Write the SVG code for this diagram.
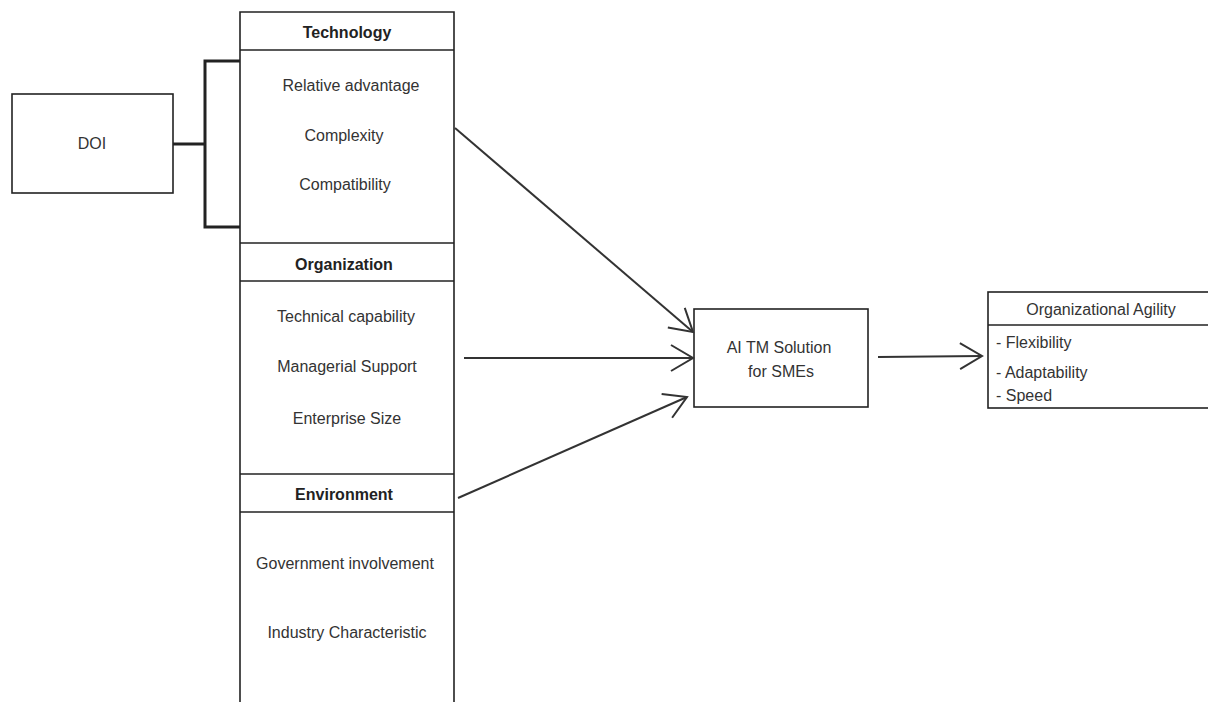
<svg xmlns="http://www.w3.org/2000/svg" width="1208" height="702" viewBox="0 0 1208 702">
<style>
.box{fill:#fff;stroke:#222;stroke-width:1.6}
.ln{fill:none;stroke:#222;stroke-width:1.6}
.t{font-family:"Liberation Sans",Arial,sans-serif;font-size:16px;fill:#333;text-anchor:middle}
.h{font-weight:bold;fill:#222}
.l{text-anchor:start}
.conn{fill:none;stroke:#333;stroke-width:2}
.br{fill:none;stroke:#222;stroke-width:3}
</style>
<defs>
<marker id="ah" markerUnits="userSpaceOnUse" markerWidth="26" markerHeight="30" refX="23" refY="14" orient="auto" viewBox="0 0 26 30">
<path d="M1,1 L23,14 L1,27" fill="none" stroke="#333" stroke-width="2"/>
</marker>
</defs>
<rect width="1208" height="702" fill="#fff"/>
<g id="doi">
<rect class="box" x="12" y="94" width="161" height="99"/>
<text class="t" x="92" y="149">DOI</text>
</g>
<g id="tech">
<path class="ln" d="M240,704 L240,12 L454,12 L454,704"/>
<line class="ln" x1="240" y1="50" x2="454" y2="50"/>
<text class="t h" x="347" y="38">Technology</text>
<text class="t" x="351" y="91">Relative advantage</text>
<text class="t" x="344" y="141">Complexity</text>
<text class="t" x="345" y="190">Compatibility</text>
</g>
<g id="org">
<line class="ln" x1="240" y1="243" x2="454" y2="243"/>
<line class="ln" x1="240" y1="281" x2="454" y2="281"/>
<text class="t h" x="344" y="270">Organization</text>
<text class="t" x="346" y="322">Technical capability</text>
<text class="t" x="347" y="372">Managerial Support</text>
<text class="t" x="347" y="424">Enterprise Size</text>
</g>
<g id="env">
<line class="ln" x1="240" y1="474" x2="454" y2="474"/>
<line class="ln" x1="240" y1="512" x2="454" y2="512"/>
<text class="t h" x="344" y="500">Environment</text>
<text class="t" x="345" y="569">Government involvement</text>
<text class="t" x="347" y="638">Industry Characteristic</text>
</g>
<g id="ai">
<rect class="box" x="694" y="309" width="174" height="98"/>
<text class="t" x="779" y="353">AI TM Solution</text>
<text class="t" x="781" y="377">for SMEs</text>
</g>
<g id="agility">
<rect class="box" x="988" y="292" width="224" height="116"/>
<line class="ln" x1="988" y1="325" x2="1210" y2="325"/>
<text class="t" x="1101" y="315">Organizational Agility</text>
<text class="t l" x="996" y="348">- Flexibility</text>
<text class="t l" x="996" y="378">- Adaptability</text>
<text class="t l" x="996" y="401">- Speed</text>
</g>
<g id="connectors">
<path class="br" d="M173,144 L205,144 M240,61 L205,61 L205,227 L240,227"/>
<line class="conn" x1="455" y1="128" x2="693" y2="332" marker-end="url(#ah)"/>
<line class="conn" x1="464" y1="358" x2="693" y2="358" marker-end="url(#ah)"/>
<line class="conn" x1="458" y1="498" x2="687" y2="397" marker-end="url(#ah)"/>
<line class="conn" x1="878" y1="357" x2="982" y2="356" marker-end="url(#ah)"/>
</g>
</svg>
